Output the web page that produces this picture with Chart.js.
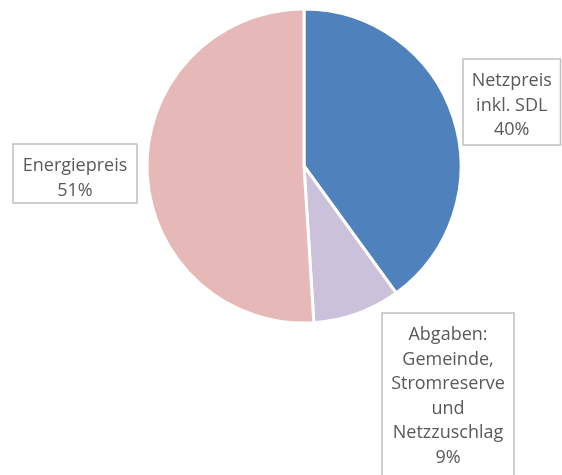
<!DOCTYPE html>
<html>
<head>
<meta charset="utf-8">
<script src="https://cdn.jsdelivr.net/npm/chart.js@4.4.0/dist/chart.umd.min.js"></script>
<style>
  html, body { margin: 0; padding: 0; background: #fff; }
  #wrap { width: 562px; height: 475px; }
</style>
</head>
<body>
<div id="wrap"><canvas id="pie"></canvas></div>
<script>
const labels = ['Netzpreis inkl. SDL', 'Abgaben: Gemeinde, Stromreserve und Netzzuschlag', 'Energiepreis'];
const values = [40, 9, 51];
const colors = ['#4F81BD', '#CCC1DA', '#E6B9B8'];
// label boxes: text lines and box placement
const boxLines = [
    ['Netzpreis', 'inkl. SDL', '40%'],
    ['Abgaben:', 'Gemeinde,', 'Stromreserve', 'und', 'Netzzuschlag', '9%'],
    ['Energiepreis', '51%']
];
const boxRects = [
    [463, 59, 97.5, 86],
    [382, 313, 132, 170],
    [13, 144, 124, 59]
];

const labelBoxes = {
    id: 'labelBoxes',
    afterDraw(chart) {
        const ctx = chart.ctx;
        ctx.save();
        ctx.font = '18px "Open Sans"';
        ctx.textAlign = 'center';
        ctx.textBaseline = 'middle';
        boxLines.forEach((lines, i) => {
            const [x, y, w, h] = boxRects[i];
            ctx.fillStyle = '#fff';
            ctx.fillRect(x, y, w, h);
            ctx.strokeStyle = '#BFBFBF';
            ctx.lineWidth = 1.5;
            ctx.strokeRect(x, y, w, h);
            ctx.fillStyle = '#595959';
            const lh = 24.5;
            const top = y + 22;
            lines.forEach((t, j) => ctx.fillText(t, x + w / 2, top + j * lh));
        });
        ctx.restore();
    }
};

new Chart(document.getElementById('pie'), {
    type: 'pie',
    data: {
        labels: labels,
        datasets: [{
            data: values,
            backgroundColor: colors,
            borderColor: '#fff',
            borderWidth: 3,
            radius: 157
        }]
    },
    options: {
        responsive: true,
        maintainAspectRatio: false,
        animation: false,
        layout: { padding: { left: 46, right: 0, top: 0, bottom: 143 } },
        plugins: {
            legend: { display: false },
            tooltip: { enabled: false }
        }
    },
    plugins: [labelBoxes]
});
</script>
</body>
</html>
